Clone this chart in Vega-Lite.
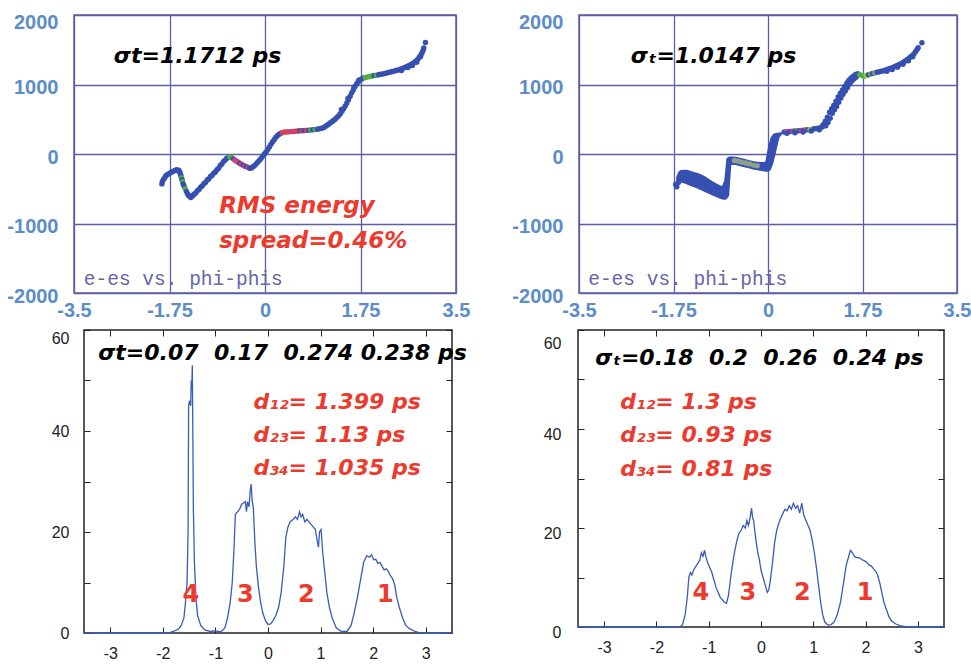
{
"$schema": "https://vega.github.io/schema/vega-lite/v6.json",
"padding": {"left": 0, "top": 11, "right": 0, "bottom": 0},
"background": "white",
"config": {"view": {"stroke": null}, "font": "Liberation Sans"},
"datasets": {
"tl": [
{"x":-1.89,"y":-430,"c":"b"},{"x":-1.88,"y":-395,"c":"b"},{"x":-1.86,"y":-365,"c":"b"},{"x":-1.84,"y":-345,"c":"b"},{"x":-1.82,"y":-318,"c":"b"},{"x":-1.80,"y":-302,"c":"b"},{"x":-1.77,"y":-288,"c":"b"},{"x":-1.74,"y":-272,"c":"b"},{"x":-1.71,"y":-262,"c":"b"},{"x":-1.68,"y":-248,"c":"b"},{"x":-1.65,"y":-236,"c":"b"},{"x":-1.62,"y":-228,"c":"b"},{"x":-1.60,"y":-240,"c":"b"},{"x":-1.58,"y":-232,"c":"b"},{"x":-1.56,"y":-262,"c":"b"},{"x":-1.55,"y":-290,"c":"b"},{"x":-1.54,"y":-318,"c":"b"},{"x":-1.53,"y":-345,"c":"g"},{"x":-1.52,"y":-372,"c":"b"},{"x":-1.51,"y":-400,"c":"g"},{"x":-1.50,"y":-432,"c":"b"},{"x":-1.48,"y":-468,"c":"b"},{"x":-1.46,"y":-505,"c":"g"},{"x":-1.44,"y":-540,"c":"b"},{"x":-1.42,"y":-572,"c":"b"},{"x":-1.40,"y":-598,"c":"b"},{"x":-1.38,"y":-612,"c":"b"},{"x":-1.36,"y":-625,"c":"b"},{"x":-1.34,"y":-608,"c":"b"},{"x":-1.32,"y":-598,"c":"b"},{"x":-1.30,"y":-578,"c":"b"},
{"x":-1.27,"y":-560,"c":"b"},{"x":-1.24,"y":-528,"c":"b"},{"x":-1.21,"y":-510,"c":"b"},{"x":-1.18,"y":-478,"c":"b"},{"x":-1.15,"y":-460,"c":"b"},{"x":-1.12,"y":-428,"c":"b"},{"x":-1.09,"y":-410,"c":"b"},{"x":-1.06,"y":-375,"c":"b"},{"x":-1.03,"y":-360,"c":"b"},{"x":-1.00,"y":-325,"c":"b"},{"x":-0.97,"y":-310,"c":"b"},{"x":-0.94,"y":-276,"c":"b"},{"x":-0.91,"y":-258,"c":"b"},{"x":-0.88,"y":-225,"c":"b"},{"x":-0.85,"y":-205,"c":"b"},{"x":-0.82,"y":-166,"c":"b"},{"x":-0.79,"y":-145,"c":"b"},{"x":-0.76,"y":-108,"c":"b"},{"x":-0.73,"y":-88,"c":"b"},{"x":-0.70,"y":-62,"c":"b"},{"x":-0.67,"y":-52,"c":"b"},{"x":-0.64,"y":-42,"c":"g"},{"x":-0.61,"y":-55,"c":"g"},
{"x":-0.58,"y":-70,"c":"b"},{"x":-0.55,"y":-90,"c":"r"},{"x":-0.52,"y":-105,"c":"m"},{"x":-0.49,"y":-120,"c":"r"},{"x":-0.46,"y":-135,"c":"b"},{"x":-0.43,"y":-150,"c":"r"},{"x":-0.40,"y":-160,"c":"b"},{"x":-0.37,"y":-175,"c":"m"},{"x":-0.34,"y":-185,"c":"b"},{"x":-0.31,"y":-195,"c":"r"},{"x":-0.28,"y":-205,"c":"b"},{"x":-0.25,"y":-200,"c":"b"},{"x":-0.22,"y":-185,"c":"b"},{"x":-0.19,"y":-165,"c":"b"},{"x":-0.16,"y":-140,"c":"b"},{"x":-0.13,"y":-115,"c":"b"},{"x":-0.10,"y":-90,"c":"b"},{"x":-0.07,"y":-60,"c":"b"},{"x":-0.04,"y":-30,"c":"b"},{"x":-0.01,"y":0,"c":"b"},
{"x":0.02,"y":30,"c":"b"},{"x":0.05,"y":65,"c":"b"},{"x":0.08,"y":100,"c":"b"},{"x":0.11,"y":140,"c":"b"},{"x":0.14,"y":175,"c":"b"},{"x":0.17,"y":210,"c":"b"},{"x":0.20,"y":240,"c":"b"},{"x":0.23,"y":265,"c":"b"},{"x":0.26,"y":285,"c":"b"},{"x":0.29,"y":300,"c":"b"},{"x":0.32,"y":310,"c":"r"},
{"x":0.36,"y":315,"c":"r"},{"x":0.40,"y":318,"c":"r"},{"x":0.44,"y":320,"c":"r"},{"x":0.48,"y":322,"c":"m"},{"x":0.52,"y":325,"c":"r"},{"x":0.56,"y":327,"c":"r"},{"x":0.60,"y":330,"c":"r"},{"x":0.64,"y":333,"c":"b"},{"x":0.68,"y":335,"c":"r"},{"x":0.72,"y":338,"c":"b"},{"x":0.76,"y":340,"c":"r"},{"x":0.80,"y":343,"c":"b"},{"x":0.84,"y":346,"c":"g"},{"x":0.88,"y":350,"c":"b"},{"x":0.92,"y":352,"c":"g"},{"x":0.96,"y":356,"c":"b"},{"x":1.00,"y":362,"c":"b"},{"x":1.04,"y":370,"c":"b"},{"x":1.08,"y":382,"c":"b"},{"x":1.11,"y":398,"c":"b"},{"x":1.14,"y":415,"c":"b"},{"x":1.17,"y":432,"c":"b"},
{"x":1.20,"y":450,"c":"b"},{"x":1.23,"y":468,"c":"b"},{"x":1.26,"y":485,"c":"b"},{"x":1.29,"y":505,"c":"b"},{"x":1.32,"y":528,"c":"b"},{"x":1.35,"y":552,"c":"b"},{"x":1.38,"y":580,"c":"b"},{"x":1.41,"y":615,"c":"b"},{"x":1.44,"y":650,"c":"b"},{"x":1.47,"y":690,"c":"b"},{"x":1.50,"y":735,"c":"b"},{"x":1.53,"y":780,"c":"b"},{"x":1.56,"y":830,"c":"b"},{"x":1.59,"y":880,"c":"b"},{"x":1.62,"y":925,"c":"b"},{"x":1.65,"y":970,"c":"b"},{"x":1.68,"y":1010,"c":"b"},{"x":1.71,"y":1040,"c":"b"},{"x":1.74,"y":1065,"c":"b"},{"x":1.77,"y":1080,"c":"b"},{"x":1.80,"y":1092,"c":"b"},{"x":1.40,"y":640,"c":"b"},{"x":1.52,"y":800,"c":"b"},{"x":1.63,"y":960,"c":"b"},{"x":1.72,"y":1060,"c":"b"},
{"x":1.84,"y":1100,"c":"g"},{"x":1.88,"y":1108,"c":"g"},{"x":1.92,"y":1115,"c":"g"},{"x":1.96,"y":1122,"c":"g"},{"x":2.00,"y":1128,"c":"b"},{"x":2.04,"y":1132,"c":"g"},{"x":2.08,"y":1140,"c":"b"},{"x":2.12,"y":1146,"c":"b"},{"x":2.16,"y":1152,"c":"b"},{"x":2.20,"y":1160,"c":"b"},{"x":2.24,"y":1168,"c":"b"},{"x":2.28,"y":1176,"c":"b"},{"x":2.32,"y":1185,"c":"b"},{"x":2.36,"y":1192,"c":"b"},{"x":2.40,"y":1200,"c":"b"},{"x":2.44,"y":1210,"c":"b"},{"x":2.48,"y":1220,"c":"b"},{"x":2.52,"y":1232,"c":"b"},{"x":2.56,"y":1245,"c":"b"},{"x":2.60,"y":1258,"c":"b"},{"x":2.64,"y":1272,"c":"b"},{"x":2.68,"y":1290,"c":"b"},{"x":2.72,"y":1310,"c":"b"},{"x":2.76,"y":1335,"c":"b"},{"x":2.80,"y":1365,"c":"b"},{"x":2.83,"y":1395,"c":"b"},{"x":2.86,"y":1430,"c":"b"},{"x":2.88,"y":1460,"c":"b"},{"x":2.90,"y":1495,"c":"b"},{"x":2.91,"y":1525,"c":"b"},{"x":2.94,"y":1605,"c":"b"},{"x":2.50,"y":1200,"c":"b"},{"x":2.62,"y":1245,"c":"b"},{"x":2.70,"y":1275,"c":"b"},{"x":2.78,"y":1320,"c":"b"},{"x":2.85,"y":1400,"c":"b"}
],
"tr": [
{"x":-1.71,"y":-440,"c":"b"},{"x":-1.69,"y":-470,"c":"b"},{"x":-1.66,"y":-410,"c":"b"},
{"x":-0.62,"y":-95,"c":"k"},{"x":-0.55,"y":-105,"c":"k"},{"x":-0.48,"y":-118,"c":"k"},{"x":-0.41,"y":-130,"c":"k"},{"x":-0.34,"y":-145,"c":"k"},{"x":-0.27,"y":-160,"c":"k"},{"x":-0.20,"y":-170,"c":"k"},
{"x":0.30,"y":318,"c":"b"},{"x":0.34,"y":320,"c":"m"},{"x":0.38,"y":322,"c":"m"},{"x":0.42,"y":324,"c":"b"},{"x":0.46,"y":327,"c":"m"},{"x":0.50,"y":330,"c":"b"},{"x":0.54,"y":333,"c":"g"},{"x":0.58,"y":336,"c":"b"},{"x":0.62,"y":340,"c":"m"},{"x":0.66,"y":343,"c":"b"},{"x":0.70,"y":347,"c":"r"},{"x":0.74,"y":350,"c":"b"},{"x":0.78,"y":354,"c":"y"},{"x":0.82,"y":358,"c":"g"},{"x":0.86,"y":362,"c":"b"},{"x":0.90,"y":366,"c":"b"},{"x":0.94,"y":372,"c":"b"},{"x":0.98,"y":380,"c":"b"},{"x":1.01,"y":392,"c":"b"},{"x":0.35,"y":298,"c":"b"},{"x":0.50,"y":306,"c":"b"},{"x":0.65,"y":318,"c":"b"},{"x":0.80,"y":332,"c":"b"},{"x":0.95,"y":350,"c":"b"},
{"x":1.02,"y":420,"c":"b"},{"x":1.06,"y":470,"c":"b"},{"x":1.10,"y":530,"c":"b"},{"x":1.14,"y":600,"c":"b"},{"x":1.18,"y":650,"c":"b"},{"x":1.22,"y":700,"c":"b"},{"x":1.26,"y":760,"c":"b"},{"x":1.30,"y":820,"c":"b"},{"x":1.34,"y":875,"c":"b"},{"x":1.38,"y":920,"c":"b"},{"x":1.42,"y":970,"c":"b"},{"x":1.46,"y":1020,"c":"b"},{"x":1.50,"y":1060,"c":"b"},{"x":1.54,"y":1095,"c":"b"},{"x":1.58,"y":1120,"c":"b"},{"x":1.62,"y":1145,"c":"b"},{"x":1.66,"y":1155,"c":"b"},
{"x":1.07,"y":405,"c":"b"},{"x":1.11,"y":455,"c":"b"},{"x":1.15,"y":515,"c":"b"},{"x":1.19,"y":585,"c":"b"},{"x":1.23,"y":635,"c":"b"},{"x":1.27,"y":685,"c":"b"},{"x":1.31,"y":745,"c":"b"},{"x":1.35,"y":805,"c":"b"},{"x":1.39,"y":860,"c":"b"},{"x":1.43,"y":905,"c":"b"},{"x":1.47,"y":955,"c":"b"},{"x":1.51,"y":1005,"c":"b"},{"x":1.55,"y":1045,"c":"b"},{"x":1.59,"y":1080,"c":"b"},{"x":1.63,"y":1105,"c":"b"},
{"x":1.70,"y":1140,"c":"g"},{"x":1.74,"y":1130,"c":"g"},{"x":1.78,"y":1120,"c":"g"},{"x":1.82,"y":1128,"c":"y"},{"x":1.86,"y":1140,"c":"b"},{"x":1.90,"y":1150,"c":"g"},{"x":1.94,"y":1160,"c":"b"},{"x":1.98,"y":1168,"c":"k"},{"x":2.02,"y":1175,"c":"b"},{"x":2.06,"y":1182,"c":"b"},{"x":2.10,"y":1190,"c":"b"},{"x":2.14,"y":1198,"c":"b"},{"x":2.18,"y":1207,"c":"b"},{"x":2.22,"y":1218,"c":"b"},{"x":2.26,"y":1230,"c":"b"},{"x":2.30,"y":1242,"c":"b"},{"x":2.34,"y":1255,"c":"b"},{"x":2.38,"y":1270,"c":"b"},{"x":2.42,"y":1285,"c":"b"},{"x":2.46,"y":1300,"c":"b"},{"x":2.50,"y":1318,"c":"b"},{"x":2.54,"y":1338,"c":"b"},{"x":2.58,"y":1360,"c":"b"},{"x":2.62,"y":1385,"c":"b"},{"x":2.66,"y":1410,"c":"b"},{"x":2.70,"y":1440,"c":"b"},{"x":2.73,"y":1470,"c":"b"},{"x":2.76,"y":1505,"c":"b"},{"x":2.78,"y":1530,"c":"b"},{"x":2.85,"y":1600,"c":"b"},{"x":2.20,"y":1190,"c":"b"},{"x":2.30,"y":1215,"c":"b"},{"x":2.40,"y":1250,"c":"b"},{"x":2.50,"y":1290,"c":"b"},{"x":2.60,"y":1340,"c":"b"},{"x":2.68,"y":1400,"c":"b"}
],
"trband": [
{"x":-1.70,"hi":-330,"lo":-430},{"x":-1.66,"hi":-255,"lo":-415},{"x":-1.62,"hi":-232,"lo":-410},{"x":-1.56,"hi":-225,"lo":-420},{"x":-1.50,"hi":-228,"lo":-440},{"x":-1.44,"hi":-240,"lo":-460},{"x":-1.37,"hi":-258,"lo":-480},{"x":-1.30,"hi":-275,"lo":-500},{"x":-1.23,"hi":-295,"lo":-525},{"x":-1.16,"hi":-325,"lo":-550},{"x":-1.09,"hi":-360,"lo":-575},{"x":-1.02,"hi":-395,"lo":-600},{"x":-0.96,"hi":-420,"lo":-620},{"x":-0.90,"hi":-445,"lo":-640},{"x":-0.85,"hi":-460,"lo":-655},{"x":-0.81,"hi":-380,"lo":-660},{"x":-0.77,"hi":-60,"lo":-655},{"x":-0.72,"hi":-35,"lo":-600},{"x":-0.68,"hi":-35,"lo":-160},
{"x":-0.60,"hi":-40,"lo":-160},{"x":-0.52,"hi":-55,"lo":-175},{"x":-0.44,"hi":-70,"lo":-190},{"x":-0.36,"hi":-85,"lo":-205},{"x":-0.28,"hi":-100,"lo":-222},{"x":-0.20,"hi":-110,"lo":-235},{"x":-0.12,"hi":-115,"lo":-245},{"x":-0.05,"hi":-110,"lo":-255},{"x":0.00,"hi":100,"lo":-255},{"x":0.05,"hi":240,"lo":-235},{"x":0.10,"hi":290,"lo":-130},{"x":0.16,"hi":305,"lo":60},{"x":0.21,"hi":310,"lo":230},{"x":0.26,"hi":315,"lo":285}
],
"bl": [
{"x":-3.5,"y":0},{"x":-1.9,"y":0},{"x":-1.8,"y":0.3},{"x":-1.7,"y":0.8},{"x":-1.65,"y":1.5},{"x":-1.6,"y":3},{"x":-1.57,"y":6},{"x":-1.54,"y":10},{"x":-1.52,"y":20},{"x":-1.51,"y":45},{"x":-1.49,"y":46},{"x":-1.47,"y":45},{"x":-1.46,"y":50},{"x":-1.45,"y":48},{"x":-1.44,"y":53},{"x":-1.43,"y":40},{"x":-1.42,"y":25},{"x":-1.40,"y":14},{"x":-1.37,"y":7},{"x":-1.34,"y":3.5},{"x":-1.28,"y":1.5},{"x":-1.2,"y":0.6},{"x":-1.1,"y":0.3},{"x":-1.0,"y":0.4},{"x":-0.9,"y":0.2},{"x":-0.82,"y":1},{"x":-0.77,"y":3},{"x":-0.72,"y":6},{"x":-0.68,"y":10},{"x":-0.65,"y":16},{"x":-0.62,"y":23.5},{"x":-0.58,"y":24},{"x":-0.54,"y":24.5},{"x":-0.5,"y":25.5},{"x":-0.46,"y":25.8},{"x":-0.43,"y":26},{"x":-0.41,"y":24},{"x":-0.39,"y":26},{"x":-0.36,"y":25},{"x":-0.34,"y":28},{"x":-0.32,"y":29.5},{"x":-0.30,"y":26},{"x":-0.28,"y":25},{"x":-0.25,"y":18},{"x":-0.22,"y":13},{"x":-0.18,"y":9},{"x":-0.14,"y":6},{"x":-0.1,"y":4},{"x":-0.05,"y":2.5},{"x":0.0,"y":1.7},{"x":0.05,"y":1.8},{"x":0.1,"y":2.5},{"x":0.15,"y":3.5},{"x":0.2,"y":5},{"x":0.25,"y":8},{"x":0.3,"y":13},{"x":0.34,"y":19},{"x":0.38,"y":21},{"x":0.42,"y":22},{"x":0.48,"y":22.5},{"x":0.52,"y":23},{"x":0.56,"y":22.5},{"x":0.60,"y":24},{"x":0.63,"y":23},{"x":0.66,"y":23.5},{"x":0.7,"y":22},{"x":0.74,"y":22.5},{"x":0.78,"y":22},{"x":0.82,"y":21.5},{"x":0.86,"y":21},{"x":0.9,"y":20.5},{"x":0.94,"y":18},{"x":0.96,"y":17},{"x":0.98,"y":20},{"x":1.01,"y":20.5},{"x":1.04,"y":16},{"x":1.08,"y":12},{"x":1.12,"y":8},{"x":1.17,"y":5},{"x":1.22,"y":3},{"x":1.3,"y":1},{"x":1.4,"y":0.3},{"x":1.5,"y":0.3},{"x":1.58,"y":1.5},{"x":1.64,"y":4},{"x":1.7,"y":7},{"x":1.76,"y":10.5},{"x":1.82,"y":14},{"x":1.88,"y":15.3},{"x":1.93,"y":15},{"x":1.97,"y":15.5},{"x":2.01,"y":14.5},{"x":2.05,"y":14.6},{"x":2.09,"y":13.8},{"x":2.13,"y":14},{"x":2.17,"y":13.2},{"x":2.21,"y":12.5},{"x":2.25,"y":12.7},{"x":2.29,"y":12.2},{"x":2.33,"y":11.3},{"x":2.37,"y":10.8},{"x":2.41,"y":9.5},{"x":2.45,"y":7},{"x":2.5,"y":5},{"x":2.56,"y":3},{"x":2.62,"y":1.5},{"x":2.7,"y":0.8},{"x":2.8,"y":0.3},{"x":2.9,"y":0},{"x":3.5,"y":0}
],
"br": [
{"x":-3.5,"y":0},{"x":-1.55,"y":0},{"x":-1.5,"y":0.5},{"x":-1.45,"y":2.5},{"x":-1.41,"y":6},{"x":-1.38,"y":10},{"x":-1.35,"y":11},{"x":-1.32,"y":10.5},{"x":-1.29,"y":11.5},{"x":-1.26,"y":12},{"x":-1.23,"y":12.5},{"x":-1.2,"y":13},{"x":-1.17,"y":13.5},{"x":-1.14,"y":15},{"x":-1.11,"y":14.3},{"x":-1.08,"y":15.5},{"x":-1.05,"y":14},{"x":-1.02,"y":13},{"x":-0.98,"y":12},{"x":-0.94,"y":11},{"x":-0.9,"y":9.5},{"x":-0.86,"y":8},{"x":-0.82,"y":7},{"x":-0.78,"y":6},{"x":-0.74,"y":5.5},{"x":-0.7,"y":5},{"x":-0.66,"y":4.8},{"x":-0.62,"y":6.5},{"x":-0.58,"y":10},{"x":-0.54,"y":13},{"x":-0.5,"y":15.5},{"x":-0.46,"y":17.5},{"x":-0.42,"y":19},{"x":-0.38,"y":19.5},{"x":-0.34,"y":20.5},{"x":-0.30,"y":20},{"x":-0.27,"y":21.5},{"x":-0.24,"y":20.5},{"x":-0.21,"y":22},{"x":-0.18,"y":24},{"x":-0.16,"y":22},{"x":-0.14,"y":21.5},{"x":-0.12,"y":19.5},{"x":-0.09,"y":17},{"x":-0.06,"y":15},{"x":-0.03,"y":13.5},{"x":0.0,"y":11.5},{"x":0.04,"y":10},{"x":0.08,"y":8.5},{"x":0.12,"y":7},{"x":0.15,"y":7.5},{"x":0.18,"y":9.5},{"x":0.22,"y":13},{"x":0.26,"y":17},{"x":0.3,"y":19.5},{"x":0.34,"y":21},{"x":0.38,"y":22},{"x":0.42,"y":23},{"x":0.46,"y":23.8},{"x":0.5,"y":23.5},{"x":0.54,"y":24.5},{"x":0.58,"y":23.8},{"x":0.62,"y":25},{"x":0.66,"y":24},{"x":0.7,"y":24.5},{"x":0.74,"y":23},{"x":0.78,"y":25},{"x":0.82,"y":22.5},{"x":0.86,"y":21.5},{"x":0.9,"y":20.5},{"x":0.94,"y":19.5},{"x":0.98,"y":17.5},{"x":1.02,"y":15},{"x":1.06,"y":12},{"x":1.1,"y":8.5},{"x":1.14,"y":5},{"x":1.18,"y":2.5},{"x":1.22,"y":1},{"x":1.28,"y":0.4},{"x":1.34,"y":0.5},{"x":1.4,"y":1},{"x":1.46,"y":2.5},{"x":1.52,"y":5},{"x":1.58,"y":9},{"x":1.63,"y":12.5},{"x":1.67,"y":14},{"x":1.71,"y":15.5},{"x":1.75,"y":15},{"x":1.79,"y":14.2},{"x":1.83,"y":14},{"x":1.87,"y":14},{"x":1.91,"y":13.8},{"x":1.95,"y":13.5},{"x":1.99,"y":13.3},{"x":2.03,"y":13},{"x":2.07,"y":12.5},{"x":2.11,"y":12.3},{"x":2.15,"y":11.8},{"x":2.19,"y":11.3},{"x":2.23,"y":10.5},{"x":2.27,"y":9},{"x":2.31,"y":7},{"x":2.35,"y":5},{"x":2.4,"y":3.5},{"x":2.45,"y":2},{"x":2.5,"y":1.2},{"x":2.58,"y":0.6},{"x":2.68,"y":0.2},{"x":2.8,"y":0},{"x":3.5,"y":0}
],
"tlBlack": [{"x":-2.77,"y":1410,"t":"σt=1.1712 ps"}],
"tlRed": [{"x":-0.84,"y":-748,"t":"RMS energy"},{"x":-0.84,"y":-1252,"t":"spread=0.46%"}],
"tlMono": [{"x":-3.32,"y":-1800,"t":"e-es vs. phi-phis"}],
"trBlack": [{"x":-2.54,"y":1410,"t":"σₜ=1.0147 ps"}],
"trMono": [{"x":-3.33,"y":-1800,"t":"e-es vs. phi-phis"}],
"blBlack": [{"x":-3.23,"y":55.4,"t":"σt=0.07\u00a0\u00a00.17\u00a0\u00a00.274 0.238 ps"}],
"blRed": [{"x":-0.275,"y":45.7,"t":"d₁₂= 1.399 ps"},{"x":-0.275,"y":39.2,"t":"d₂₃= 1.13 ps"},{"x":-0.275,"y":32.7,"t":"d₃₄= 1.035 ps"}],
"blNum": [{"x":-1.47,"y":7.5,"t":"4"},{"x":-0.43,"y":7.5,"t":"3"},{"x":0.73,"y":7.5,"t":"2"},{"x":2.23,"y":7.5,"t":"1"}],
"brBlack": [{"x":-3.17,"y":54.3,"t":"σₜ=0.18\u00a0\u00a00.2\u00a0\u00a00.26\u00a0\u00a00.24 ps"}],
"brRed": [{"x":-2.69,"y":45.5,"t":"d₁₂= 1.3 ps"},{"x":-2.69,"y":38.8,"t":"d₂₃= 0.93 ps"},{"x":-2.69,"y":31.9,"t":"d₃₄= 0.81 ps"}],
"brNum": [{"x":-1.15,"y":6.8,"t":"4"},{"x":-0.25,"y":6.8,"t":"3"},{"x":0.79,"y":6.8,"t":"2"},{"x":1.99,"y":6.8,"t":"1"}],
"none": []
},
"columns": 1,
"align": "none",
"bounds": "full",
"spacing": 0,
"concat": [
{
"columns": 3,
"align": "none",
"bounds": "full",
"spacing": 2,
"concat": [
{"width": 1, "height": 1, "data": {"name": "none"}, "mark": "point", "encoding": {}},
{
"width": 382, "height": 278,
"view": {"stroke": "#5e5ea8", "strokeWidth": 1.5},
"resolve": {"axis": {"x": "independent", "y": "independent"}},
"layer": [
{"data": {"name": "tl"}, "mark": {"type": "circle", "size": 30, "opacity": 1},
"encoding": {
"x": {"field": "x", "type": "quantitative", "scale": {"domain": [-3.5, 3.5], "nice": false, "zero": false},
"axis": {"values": [-3.5, -1.75, 0, 1.75, 3.5], "labelExpr": "'' + datum.value", "grid": true, "gridColor": "#5e5ea8", "gridWidth": 1.3, "domain": false, "ticks": false, "labelFont": "Liberation Sans", "labelFontSize": 20, "labelFontWeight": "bold", "labelColor": "#5b8dc9", "labelPadding": 7, "labelFlush": false, "labelOverlap": false, "title": null, "minExtent": 34}},
"y": {"field": "y", "type": "quantitative", "scale": {"domain": [-2000, 2000], "nice": false, "zero": false},
"axis": {"values": [-2000, -1000, 0, 1000, 2000], "labelExpr": "'' + datum.value", "grid": true, "gridColor": "#5e5ea8", "gridWidth": 1.3, "domain": false, "ticks": false, "labelFont": "Liberation Sans", "labelFontSize": 20, "labelFontWeight": "bold", "labelColor": "#5b8dc9", "labelPadding": 16, "labelOffset": {"condition": {"test": "datum.value == 2000", "value": 7}, "value": 3}, "labelOverlap": false, "title": null, "minExtent": 70}},
"color": {"field": "c", "type": "nominal", "scale": {"domain": ["b", "g", "r", "m", "y", "k"], "range": ["#3550b0", "#52b043", "#d8405a", "#c83aa8", "#a8c040", "#8f9f8a"]}, "legend": null}
}},
{"data": {"name": "tlBlack"}, "mark": {"type": "text", "font": "DejaVu Sans", "fontSize": 22, "fontWeight": "bold", "fontStyle": "italic", "align": "left", "baseline": "middle", "color": "black"},
"encoding": {"x": {"field": "x", "type": "quantitative", "axis": null}, "y": {"field": "y", "type": "quantitative", "axis": {"orient": "right", "labels": false, "ticks": false, "domain": false, "grid": false, "title": null, "minExtent": 49}}, "text": {"field": "t"}}},
{"data": {"name": "tlRed"}, "mark": {"type": "text", "font": "DejaVu Sans", "fontSize": 23, "fontWeight": "bold", "fontStyle": "italic", "align": "left", "baseline": "middle", "color": "#ec3b2e"},
"encoding": {"x": {"field": "x", "type": "quantitative", "axis": null}, "y": {"field": "y", "type": "quantitative", "axis": null}, "text": {"field": "t"}}},
{"data": {"name": "tlMono"}, "mark": {"type": "text", "font": "Liberation Mono", "fontSize": 19.5, "align": "left", "baseline": "middle", "color": "#6666aa"},
"encoding": {"x": {"field": "x", "type": "quantitative", "axis": null}, "y": {"field": "y", "type": "quantitative", "axis": null}, "text": {"field": "t"}}}
]
},
{
"width": 378, "height": 278,
"view": {"stroke": "#5e5ea8", "strokeWidth": 1.5},
"resolve": {"axis": {"x": "independent", "y": "independent"}},
"layer": [
{"data": {"name": "trband"}, "mark": {"type": "area", "color": "#3550b0", "opacity": 1},
"encoding": {
"x": {"field": "x", "type": "quantitative", "scale": {"domain": [-3.5, 3.5], "nice": false, "zero": false},
"axis": {"values": [-3.5, -1.75, 0, 1.75, 3.5], "labelExpr": "'' + datum.value", "grid": true, "gridColor": "#5e5ea8", "gridWidth": 1.3, "domain": false, "ticks": false, "labelFont": "Liberation Sans", "labelFontSize": 20, "labelFontWeight": "bold", "labelColor": "#5b8dc9", "labelPadding": 7, "labelFlush": false, "labelOverlap": false, "title": null, "minExtent": 34}},
"y": {"field": "hi", "type": "quantitative", "scale": {"domain": [-2000, 2000], "nice": false, "zero": false},
"axis": {"values": [-2000, -1000, 0, 1000, 2000], "labelExpr": "'' + datum.value", "grid": true, "gridColor": "#5e5ea8", "gridWidth": 1.3, "domain": false, "ticks": false, "labelFont": "Liberation Sans", "labelFontSize": 20, "labelFontWeight": "bold", "labelColor": "#5b8dc9", "labelPadding": 16, "labelOffset": {"condition": {"test": "datum.value == 2000", "value": 7}, "value": 3}, "labelOverlap": false, "title": null, "minExtent": 70}},
"y2": {"field": "lo"}
}},
{"data": {"name": "tr"}, "mark": {"type": "circle", "size": 30, "opacity": 1},
"encoding": {
"x": {"field": "x", "type": "quantitative", "axis": null},
"y": {"field": "y", "type": "quantitative", "axis": null},
"color": {"field": "c", "type": "nominal", "scale": {"domain": ["b", "g", "r", "m", "y", "k"], "range": ["#3550b0", "#52b043", "#d8405a", "#c83aa8", "#a8c040", "#8f9f8a"]}, "legend": null}
}},
{"data": {"name": "trBlack"}, "mark": {"type": "text", "font": "DejaVu Sans", "fontSize": 22, "fontWeight": "bold", "fontStyle": "italic", "align": "left", "baseline": "middle", "color": "black"},
"encoding": {"x": {"field": "x", "type": "quantitative", "axis": null}, "y": {"field": "y", "type": "quantitative", "axis": null}, "text": {"field": "t"}}},
{"data": {"name": "trMono"}, "mark": {"type": "text", "font": "Liberation Mono", "fontSize": 19.5, "align": "left", "baseline": "middle", "color": "#6666aa"},
"encoding": {"x": {"field": "x", "type": "quantitative", "axis": null}, "y": {"field": "y", "type": "quantitative", "axis": null}, "text": {"field": "t"}}}
]
}
]
},
{
"columns": 3,
"align": "none",
"bounds": "full",
"spacing": 2,
"concat": [
{"width": 1, "height": 1, "data": {"name": "none"}, "mark": "point", "encoding": {}},
{
"width": 368, "height": 303,
"view": {"stroke": "#222222", "strokeWidth": 1.5},
"resolve": {"axis": {"x": "independent", "y": "independent"}},
"layer": [
{"data": {"name": "bl"}, "mark": {"type": "line", "color": "#3a5bb8", "strokeWidth": 1.3},
"encoding": {
"x": {"field": "x", "type": "quantitative", "scale": {"domain": [-3.5, 3.5], "nice": false, "zero": false},
"axis": {"values": [-3, -2, -1, 0, 1, 2, 3], "labelExpr": "'' + datum.value", "grid": false, "domain": false, "tickSize": -6, "tickColor": "#222222", "labelFont": "Liberation Sans", "labelFontSize": 16, "labelColor": "#222222", "labelPadding": 18, "labelFlush": false, "labelOverlap": false, "title": null}},
"y": {"field": "y", "type": "quantitative", "scale": {"domain": [0, 60], "nice": false, "zero": false},
"axis": {"values": [0, 10, 20, 30, 40, 50, 60], "labelExpr": "datum.value % 20 == 0 ? '' + datum.value : ''", "grid": false, "domain": false, "tickSize": -6, "tickColor": "#222222", "labelFont": "Liberation Sans", "labelFontSize": 16, "labelColor": "#222222", "labelPadding": 21, "labelBaseline": {"condition": {"test": "datum.value == 60", "value": "top"}, "value": "middle"}, "labelFlush": false, "labelOverlap": false, "title": null, "minExtent": 80}}
}},
{"data": {"name": "blBlack"}, "mark": {"type": "text", "font": "DejaVu Sans", "fontSize": 22, "fontWeight": "bold", "fontStyle": "italic", "align": "left", "baseline": "middle", "color": "black"},
"encoding": {
"x": {"field": "x", "type": "quantitative", "axis": {"orient": "top", "values": [-3, -2, -1, 0, 1, 2, 3], "labels": false, "grid": false, "domain": false, "tickSize": -6, "tickColor": "#222222", "title": null, "minExtent": 1}},
"y": {"field": "y", "type": "quantitative", "axis": {"orient": "right", "values": [0, 10, 20, 30, 40, 50, 60], "labels": false, "grid": false, "domain": false, "tickSize": -6, "tickColor": "#222222", "title": null, "minExtent": 42}},
"text": {"field": "t"}}},
{"data": {"name": "blRed"}, "mark": {"type": "text", "font": "DejaVu Sans", "fontSize": 22, "fontWeight": "bold", "fontStyle": "italic", "align": "left", "baseline": "middle", "color": "#ec3b2e"},
"encoding": {"x": {"field": "x", "type": "quantitative", "axis": null}, "y": {"field": "y", "type": "quantitative", "axis": null}, "text": {"field": "t"}}},
{"data": {"name": "blNum"}, "mark": {"type": "text", "font": "DejaVu Sans", "fontSize": 24, "fontWeight": "bold", "align": "center", "baseline": "middle", "color": "#ec3b2e"},
"encoding": {"x": {"field": "x", "type": "quantitative", "axis": null}, "y": {"field": "y", "type": "quantitative", "axis": null}, "text": {"field": "t"}}}
]
},
{
"width": 366, "height": 297,
"view": {"stroke": "#222222", "strokeWidth": 1.5},
"resolve": {"axis": {"x": "independent", "y": "independent"}},
"layer": [
{"data": {"name": "br"}, "mark": {"type": "line", "color": "#3a5bb8", "strokeWidth": 1.3},
"encoding": {
"x": {"field": "x", "type": "quantitative", "scale": {"domain": [-3.5, 3.5], "nice": false, "zero": false},
"axis": {"values": [-3, -2, -1, 0, 1, 2, 3], "labelExpr": "'' + datum.value", "grid": false, "domain": false, "tickSize": -6, "tickColor": "#222222", "labelFont": "Liberation Sans", "labelFontSize": 16, "labelColor": "#222222", "labelPadding": 18, "labelFlush": false, "labelOverlap": false, "title": null}},
"y": {"field": "y", "type": "quantitative", "scale": {"domain": [0, 60], "nice": false, "zero": false},
"axis": {"values": [0, 10, 20, 30, 40, 50, 60], "labelExpr": "datum.value % 20 == 0 ? '' + datum.value : ''", "grid": false, "domain": false, "tickSize": -6, "tickColor": "#222222", "labelFont": "Liberation Sans", "labelFontSize": 16, "labelColor": "#222222", "labelPadding": 23, "labelOffset": 5, "labelBaseline": {"condition": {"test": "datum.value == 60", "value": "top"}, "value": "middle"}, "labelFlush": false, "labelOverlap": false, "title": null, "minExtent": 80}}
}},
{"data": {"name": "brBlack"}, "mark": {"type": "text", "font": "DejaVu Sans", "fontSize": 22, "fontWeight": "bold", "fontStyle": "italic", "align": "left", "baseline": "middle", "color": "black"},
"encoding": {
"x": {"field": "x", "type": "quantitative", "axis": {"orient": "top", "values": [-3, -2, -1, 0, 1, 2, 3], "labels": false, "grid": false, "domain": false, "tickSize": -6, "tickColor": "#222222", "title": null, "minExtent": 1}},
"y": {"field": "y", "type": "quantitative", "axis": {"orient": "right", "values": [0, 10, 20, 30, 40, 50, 60], "labels": false, "grid": false, "domain": false, "tickSize": -6, "tickColor": "#222222", "title": null, "minExtent": 5}},
"text": {"field": "t"}}},
{"data": {"name": "brRed"}, "mark": {"type": "text", "font": "DejaVu Sans", "fontSize": 22, "fontWeight": "bold", "fontStyle": "italic", "align": "left", "baseline": "middle", "color": "#ec3b2e"},
"encoding": {"x": {"field": "x", "type": "quantitative", "axis": null}, "y": {"field": "y", "type": "quantitative", "axis": null}, "text": {"field": "t"}}},
{"data": {"name": "brNum"}, "mark": {"type": "text", "font": "DejaVu Sans", "fontSize": 24, "fontWeight": "bold", "align": "center", "baseline": "middle", "color": "#ec3b2e"},
"encoding": {"x": {"field": "x", "type": "quantitative", "axis": null}, "y": {"field": "y", "type": "quantitative", "axis": null}, "text": {"field": "t"}}}
]
}
]
}
]
}
